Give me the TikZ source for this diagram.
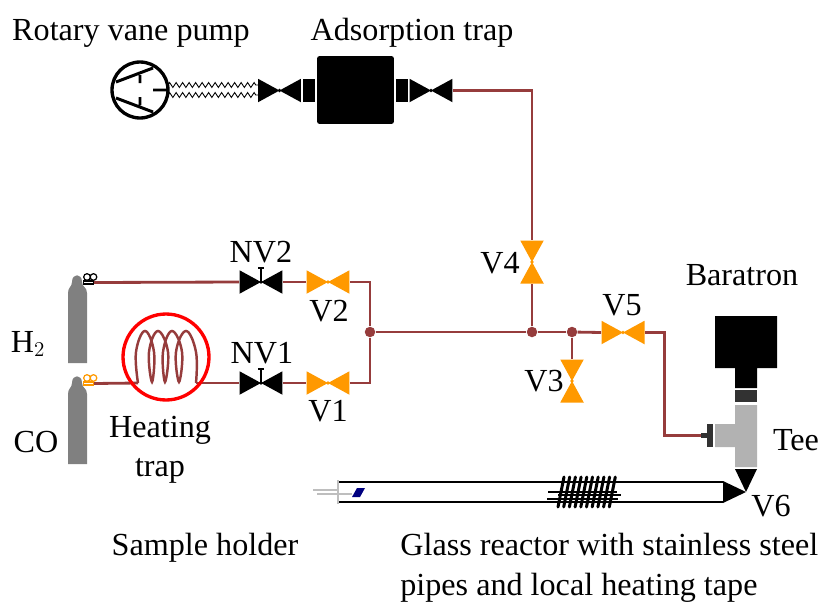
\documentclass[tikz,border=0pt]{standalone}
\usepackage{xcolor}
\usepackage{fontspec}
\setmainfont{Liberation Serif}
\usetikzlibrary{positioning, calc, decorations.pathmorphing}
\definecolor{mypipe}{RGB}{150,60,60}
\definecolor{myorange}{RGB}{255,153,0}
\definecolor{mybottle}{RGB}{128,128,128}
\definecolor{mytee}{RGB}{178,178,178}
\definecolor{mydark}{RGB}{50,50,50}
\definecolor{myflange}{RGB}{190,190,190}
\definecolor{myblue}{RGB}{0,0,128}
\tikzset{
  hvalve/.style={rectangle, inner sep=0pt, minimum width=0.86cm, minimum height=0.47cm,
    path picture={\fill[#1] (path picture bounding box.north west) -- (path picture bounding box.south east)
      -- (path picture bounding box.north east) -- (path picture bounding box.south west) -- cycle;
      \fill[#1] (path picture bounding box.center) circle (1.8);}},
  vvalve/.style={rectangle, inner sep=0pt, minimum width=0.47cm, minimum height=0.86cm,
    path picture={\fill[#1] (path picture bounding box.north west) -- (path picture bounding box.south east)
      -- (path picture bounding box.south west) -- (path picture bounding box.north east) -- cycle;
      \fill[#1] (path picture bounding box.center) circle (1.8);}},
  junc/.style={circle, fill=mypipe, inner sep=0pt, minimum size=0.21cm},
  pipe/.style={line width=1.6pt, color=mypipe},
  lbl/.style={inner sep=0pt, font=\fontsize{18.3}{22.5}\selectfont},
  flange/.style={rectangle, fill=black, inner sep=0pt, minimum width=0.24cm, minimum height=0.46cm},
  regbox/.style={rectangle, draw=#1, fill=white, inner sep=0pt, line width=0.7pt,
    minimum width=0.2cm, minimum height=0.06cm},
  hose/.style={line width=0.5pt, decorate, decoration={zigzag, segment length=0.13cm, amplitude=0.05cm}}
}
\begin{document}
\begin{tikzpicture}[x=0.02cm, y=-0.02cm]
  \useasboundingbox (0,0) rectangle (822,602);

  % -- Labels --
  \node[lbl] (lpump) at (131,33) {Rotary vane pump};
  \node[lbl] (ladsorb) at (412,33) {Adsorption trap};
  \node[lbl] (lhtwo) at (28,344) {H$_{\scriptstyle 2}$};
  \node[lbl] (lco) at (36,442) {CO};
  \node[lbl, align=center] (lheat) at (160,450) {Heating\\trap};
  \node[lbl] (lnvtwo) at (261,252) {NV2};
  \node[lbl] (lvtwo) at (329,311) {V2};
  \node[lbl] (lnvone) at (262,353) {NV1};
  \node[lbl] (lvone) at (328,411) {V1};
  \node[lbl] (lvfour) at (500,263) {V4};
  \node[lbl] (lvfive) at (622,305) {V5};
  \node[lbl] (lvthree) at (544,381) {V3};
  \node[lbl] (lbara) at (742,275) {Baratron};
  \node[lbl] (ltee) at (796,440) {Tee};
  \node[lbl] (lvsix) at (771,506) {V6};
  \node[lbl] (lsample) at (205,548) {Sample holder};
  \node[lbl, align=left, anchor=north west] (lglass) at (400,533)
    {Glass reactor with stainless steel\\pipes and local heating tape};

  % -- Valves --
  \node[hvalve=black] (vpump) at (279.5,90.5) {};
  \node[flange] (fleft) at (309,90.5) {};
  \node[rectangle, fill=black, rounded corners=1.5pt, inner sep=0pt,
    minimum width=1.54cm, minimum height=1.36cm] (adsorb) at (355.5,90) {};
  \node[flange] (fright) at (402,90.5) {};
  \node[hvalve=black] (vadsorb) at (431,90.5) {};
  \node[hvalve=black] (nvtwo) at (261,282) {};
  \node[hvalve=black] (nvone) at (261,383) {};
  \node[hvalve=myorange] (vtwo) at (328,282) {};
  \node[hvalve=myorange] (vone) at (328,383) {};
  \node[hvalve=myorange] (vfive) at (623,332.5) {};
  \node[vvalve=myorange] (vfour) at (532,262) {};
  \node[vvalve=myorange] (vthree) at (572,381) {};
  \draw[line width=1.1pt] (261,282) -- (261,268) (258,268) -- (264,268);
  \draw[line width=1.1pt] (261,383) -- (261,369) (258,369) -- (264,369);

  % -- Gas bottles --
  \foreach \ytop in {275,376}
    \fill[mybottle] (68,\ytop+88) -- (68,\ytop+18) .. controls (68,\ytop+12) and (72,\ytop+12) .. (72,\ytop+7)
      .. controls (72,\ytop-2) and (82,\ytop-2) .. (82,\ytop+7)
      .. controls (82,\ytop+12) and (87,\ytop+12) .. (87,\ytop+18) -- (87,\ytop+88) -- cycle;
  \node[regbox=black] (regtwo) at (88.5,282.5) {};
  \node[regbox=myorange] (regone) at (88.5,383.5) {};
  \draw[black, line width=0.7pt] (87,277) circle (3.3) (93.5,277) circle (3.3);
  \draw[myorange, line width=0.7pt] (87,378) circle (3.3) (93.5,378) circle (3.3);

  % -- Junctions and pipes --
  \node[junc] (jmix) at (370,332) {};
  \node[junc] (jfour) at (532,332) {};
  \node[junc] (jthree) at (572,332) {};
  \node[rectangle, fill=mydark, inner sep=0pt, minimum width=0.12cm, minimum height=0.1cm] (stub) at (704,435.5) {};
  \coordinate (coilin) at (138,383);
  \coordinate (coilout) at (196,383);
  \draw[pipe] (regtwo.east) -- (nvtwo.west);
  \draw[pipe] (nvtwo.east) -- (vtwo.west);
  \draw[pipe] (vtwo.east) -| (jmix);
  \draw[pipe] (regone.east) -- (coilin);
  \draw[pipe] (coilout) -- (nvone.west);
  \draw[pipe] (nvone.east) -- (vone.west);
  \draw[pipe] (vone.east) -| (jmix);
  \draw[pipe] (jmix) -- (jfour);
  \draw[pipe] (jfour) -- (jthree);
  \draw[pipe] (jthree) -- (vfive.west);
  \draw[pipe] (jthree) -- (vthree.north);
  \draw[pipe] (jfour) -- (vfour.south);
  \draw[pipe] (vadsorb.east) -| (vfour.north);
  \draw[pipe] (vfive.east) -- ++(19.5,0) |- (stub.west);

  % -- Heating trap --
  \draw[line width=1.4pt, color=mypipe] plot[smooth, tension=0.7] coordinates {(coilin) (136,352) (145,331) (154,352) (152,382)
    (149,352) (158,331) (168,352) (165,382) (163,352) (172,331) (182,352) (179,382) (176,352) (186,331) (196,352) (coilout)};
  \node[circle, draw=red, line width=1.9pt, inner sep=0pt, minimum size=1.72cm] (trap) at (166,357) {};

  % -- Rotary vane pump --
  \node[circle, draw=black, fill=white, line width=1.9pt, inner sep=0pt, minimum size=1.12cm] (pump) at (140,90) {};
  \draw[line width=1.7pt] (116,82) -- (153,68) (116,98) -- (153,112)
    (140,75) -- (140,83) (140,97) -- (140,105) (153,90) -- (168,90);
  \draw[hose] (168,85) -- (258,85);
  \draw[hose] (168,95) -- (258,95);

  % -- Baratron and tee --
  \fill[black] (715,316) rectangle (777,368) (735,368) rectangle (757,388);
  \fill[mydark] (735,390) rectangle (757,402);
  \fill[mytee] (735,405) rectangle (757,467) (715,424) rectangle (735,447);
  \fill[mydark] (707,424) rectangle (713,447);

  % -- Reactor --
  \draw[line width=0.9pt] (338,482) -- (723,482) (338,502) -- (723,502);
  \fill[black] (735,469) -- (757,469) -- (746,492) -- cycle;
  \fill[black] (723,481) -- (723,503) -- (746,492) -- cycle;
  \draw[myflange, line width=0.9pt] (338,480) -- (338,504);
  \draw[myflange, line width=0.7pt] (313,490) -- (338,490) (317,494) -- (352,494);
  \fill[myblue] (352,497) -- (360,497) -- (365,488) -- (357,488) -- cycle;

  % -- Heating tape --
  \draw[line width=0.6pt] (548,492) -- (617,492) (558,495) -- (621,495) (547,499) -- (618,499);
  \foreach \i in {0,...,9}
    \draw[line width=1.7pt, line cap=round] (558+5.7*\i,507) -- (564+5.7*\i,477);
\end{tikzpicture}
\end{document}
